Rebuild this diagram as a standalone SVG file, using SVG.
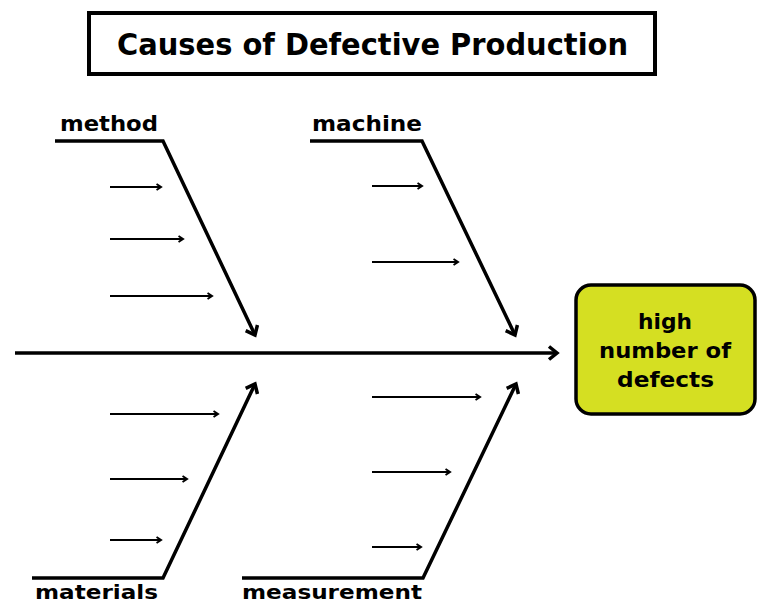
<svg xmlns="http://www.w3.org/2000/svg" width="758" height="605" viewBox="0 0 758 605">
<style>
.t{font-family:"DejaVu Sans","Liberation Sans",Arial,sans-serif;font-weight:bold;fill:#000}
.big{fill:none;stroke:#000;stroke-width:3.5;stroke-linejoin:miter}
.sm{fill:none;stroke:#000;stroke-width:2}
</style>
<defs>
<marker id="as" markerWidth="9" markerHeight="9" refX="5.5" refY="4.5" orient="auto" markerUnits="userSpaceOnUse" viewBox="0 0 9 9">
<path d="M1,1.5 L5.5,4.5 L1,7.5" fill="none" stroke="#000" stroke-width="2"/>
</marker>
<marker id="ab" markerWidth="16" markerHeight="16" refX="11" refY="8" orient="auto" markerUnits="userSpaceOnUse" viewBox="0 0 16 16">
<path d="M3,1.5 L11,8 L3,14.5" fill="none" stroke="#000" stroke-width="3.5"/>
</marker>
</defs>
<rect width="758" height="605" fill="#fff"/>
<g id="title">
<rect x="89" y="13" width="566" height="61" fill="#fff" stroke="#000" stroke-width="4"/>
<text class="t" x="117" y="55" font-size="30" textLength="511" lengthAdjust="spacingAndGlyphs">Causes of Defective Production</text>
</g>
<g id="effect">
<rect x="576" y="285" width="179" height="129" rx="15" fill="#d5df22" stroke="#000" stroke-width="3.5"/>
<text class="t" x="638" y="329" font-size="21" textLength="54" lengthAdjust="spacingAndGlyphs">high</text>
<text class="t" x="599" y="358" font-size="21" textLength="132" lengthAdjust="spacingAndGlyphs">number of</text>
<text class="t" x="617" y="387" font-size="21" textLength="97" lengthAdjust="spacingAndGlyphs">defects</text>
</g>
<g id="method">
<text class="t" x="60" y="131" font-size="21" textLength="98" lengthAdjust="spacingAndGlyphs">method</text>
</g>
<g id="machine">
<text class="t" x="312" y="131" font-size="21" textLength="110" lengthAdjust="spacingAndGlyphs">machine</text>
</g>
<g id="materials">
<text class="t" x="35" y="599" font-size="20" textLength="123" lengthAdjust="spacingAndGlyphs">materials</text>
</g>
<g id="measurement">
<text class="t" x="242" y="599" font-size="20" textLength="180" lengthAdjust="spacingAndGlyphs">measurement</text>
</g>
<g id="connectors">
<line class="big" x1="15" y1="353" x2="557" y2="353" marker-end="url(#ab)"/>
<polyline class="big" points="55,141 163,141 255,335" marker-end="url(#ab)"/>
<polyline class="big" points="310,141 422,141 515,335" marker-end="url(#ab)"/>
<polyline class="big" points="32,578 163,578 255,384" marker-end="url(#ab)"/>
<polyline class="big" points="242,578 423,578 516,384" marker-end="url(#ab)"/>
<line class="sm" x1="110" y1="187" x2="161" y2="187" marker-end="url(#as)"/>
<line class="sm" x1="110" y1="239" x2="183" y2="239" marker-end="url(#as)"/>
<line class="sm" x1="110" y1="296" x2="212" y2="296" marker-end="url(#as)"/>
<line class="sm" x1="372" y1="186" x2="422" y2="186" marker-end="url(#as)"/>
<line class="sm" x1="372" y1="262" x2="458" y2="262" marker-end="url(#as)"/>
<line class="sm" x1="110" y1="414" x2="218" y2="414" marker-end="url(#as)"/>
<line class="sm" x1="110" y1="479" x2="187" y2="479" marker-end="url(#as)"/>
<line class="sm" x1="110" y1="540" x2="161" y2="540" marker-end="url(#as)"/>
<line class="sm" x1="372" y1="397" x2="480" y2="397" marker-end="url(#as)"/>
<line class="sm" x1="372" y1="472" x2="450" y2="472" marker-end="url(#as)"/>
<line class="sm" x1="372" y1="547" x2="421" y2="547" marker-end="url(#as)"/>
</g>
</svg>
